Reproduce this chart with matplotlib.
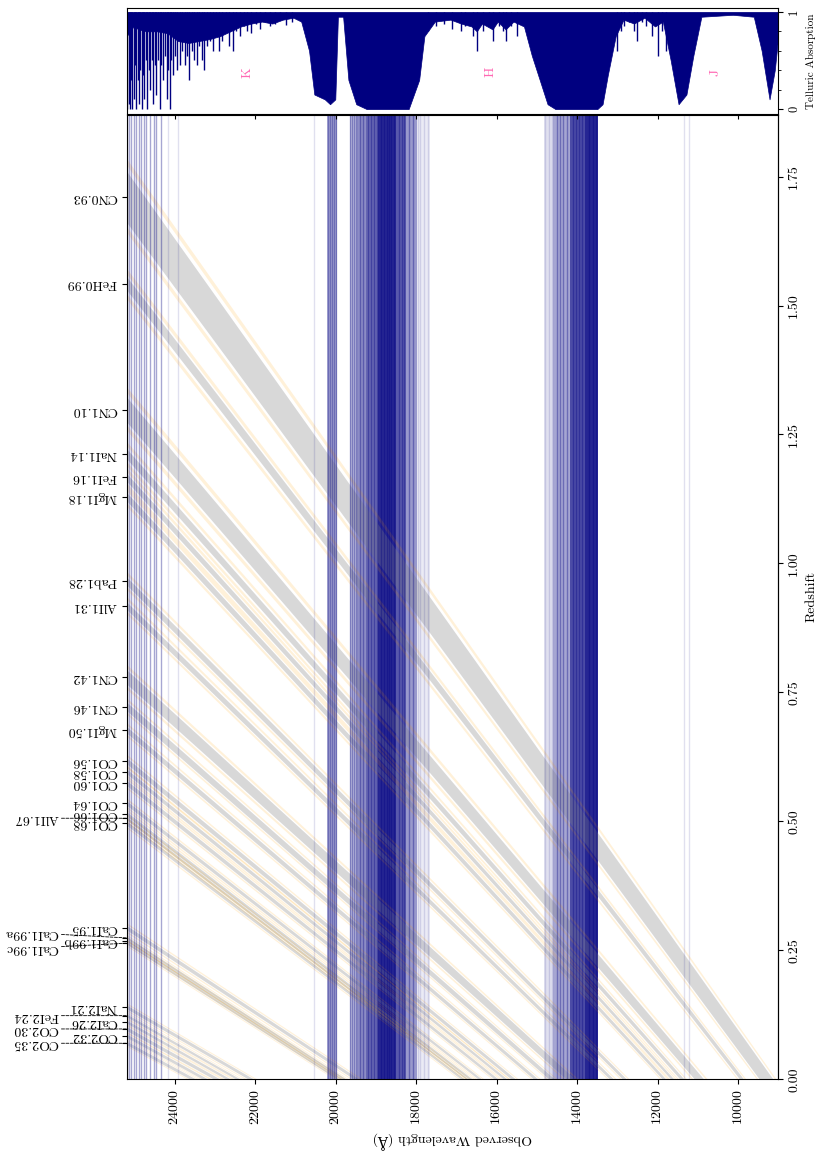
import numpy as np
import matplotlib.pyplot as plt
from matplotlib.ticker import MultipleLocator

plt.rcParams['font.family'] = ['cmr10', 'DejaVu Serif']
plt.rcParams['mathtext.fontset'] = 'cm'
plt.rcParams['axes.unicode_minus'] = False
plt.rcParams['axes.formatter.use_mathtext'] = True
plt.rcParams['font.size'] = 10

wl_min, wl_max = 9000, 25200
z_max = 1.87

# spectral indices: feature band and the two continuum bands (Angstrom, rest frame)
names = ['CN0.93', 'FeH0.99', 'CN1.10', 'NaI1.14', 'FeI1.16', 'MgI1.18', 'Pab1.28',
         'AlI1.31', 'CN1.42', 'CN1.46', 'MgI1.50', 'CO1.56', 'CO1.58', 'CO1.60',
         'CO1.64', 'CO1.66', 'AlI1.67', 'CO1.68', 'CaI1.95', 'CaI1.99a', 'CaI1.99b',
         'CaI1.99c', 'NaI2.21', 'FeI2.24', 'CaI2.26', 'CO2.30', 'CO2.32', 'CO2.35']
label_wl = [9299, 9911, 10968, 11394, 11627, 11837, 12817, 13141, 14161, 14631, 15025,
            15584, 15786, 16011, 16416, 16647, 16733, 16842, 19484, 19780, 19860,
            19940, 22113, 22434, 22680, 22961, 23249, 23556]
feat_lo = [9130, 9860, 10850, 11340, 11590, 11790, 12770, 13090, 14050, 14560, 14970,
           15530, 15740, 15960, 16370, 16600, 16700, 16800, 19420, 19740, 19820,
           19900, 22040, 22380, 22620, 22880, 23180, 23480]
feat_hi = [9470, 9960, 11080, 11440, 11670, 11880, 12870, 13190, 14270, 14700, 15080,
           15640, 15830, 16060, 16460, 16690, 16770, 16890, 19550, 19820, 19900,
           19980, 22180, 22490, 22740, 23040, 23320, 23630]
blue_lo = [9050, 9800, 10760, 11270, 11530, 11730, 12700, 13020, 13970, 14490, 14900,
           15460, 15680, 15900, 16310, 16540, 16640, 16740, 19340, 19680, 19760,
           19840, 21960, 22310, 22550, 22800, 23110, 23410]
blue_hi = [9090, 9840, 10810, 11310, 11570, 11770, 12740, 13060, 14020, 14530, 14940,
           15500, 15720, 15940, 16350, 16580, 16680, 16780, 19390, 19720, 19800,
           19880, 22010, 22350, 22590, 22850, 23150, 23450]
red_lo = [9500, 9990, 11110, 11470, 11690, 11900, 12890, 13210, 14300, 14720, 15100,
          15660, 15850, 16080, 16480, 16710, 16790, 16910, 19580, 19840, 19920,
          20000, 22210, 22510, 22760, 23070, 23340, 23650]
red_hi = [9540, 10030, 11160, 11510, 11730, 11940, 12930, 13250, 14350, 14760, 15140,
          15700, 15890, 16120, 16520, 16750, 16830, 16950, 19630, 19880, 19960,
          20040, 22260, 22550, 22800, 23120, 23380, 23700]
staggered = ['AlI1.67', 'CaI1.99a', 'CaI1.99c', 'FeI2.24', 'CO2.30', 'CO2.35']
stagger_dy = [0, 5, -5, 0, 0, 0]

# telluric absorption wavelengths
tell_strong = [25195, 25145, 25086, 25028, 24961, 24896, 24837, 24780, 24713, 24613,
               24523, 24463, 24339, 20200, 20150, 20090, 20040, 20000, 19640, 19600,
               19560, 19500, 19400, 19330, 19200, 19120, 19050, 18980, 18870, 18800,
               18740, 18680, 18620, 18560, 18430, 18350, 18300, 18180, 18080,
               14500, 14420, 14350, 14260, 14100, 14020, 13950, 13880, 13700,
               13600, 13520]
tell_weak = [24175, 23926, 20548, 17960, 17900, 17800, 17700, 14790, 14700, 14620,
             11354, 11230]
span_lo = [19980, 19470, 19250, 18950, 18500, 18250, 17990, 17650,
           14600, 14180, 13800, 13480]
span_hi = [20210, 19660, 19470, 19250, 18950, 18500, 18250, 17990,
           14820, 14600, 14180, 13800]
span_alpha = [0.35, 0.25, 0.45, 0.6, 0.85, 0.65, 0.4, 0.08,
              0.12, 0.35, 0.7, 0.85]

# telluric transmission: lower envelope of the dense spectrum
trans_wl = [25200, 25031, 24900, 24705, 24444, 24184, 23923, 23662, 23402, 23141,
            22881, 22620, 22359, 22099, 21838, 21578, 21317, 21056, 20861, 20666,
            20535, 20275, 20144, 20014, 19949, 19819, 19688, 19493, 19233, 18972,
            18711, 18451, 18190, 17929, 17799, 17538, 17147, 16887, 16626, 16496,
            16366, 16105, 15975, 15779, 15584, 15323, 15128, 14932, 14737, 14541,
            14020, 13499, 13369, 13239, 13043, 12848, 12587, 12326, 12066, 11870,
            11675, 11480, 11284, 11112, 10913, 10131, 9610, 9414, 9218, 9088, 9000]
trans_lo = [0.75, 0.85, 0.82, 0.80, 0.80, 0.78, 0.70, 0.68, 0.70, 0.72,
            0.75, 0.80, 0.85, 0.88, 0.90, 0.88, 0.92, 0.94, 0.90, 0.60,
            0.15, 0.10, 0.05, 0.10, 0.95, 0.95, 0.30, 0.05, 0.0, 0.0,
            0.0, 0.0, 0.0, 0.30, 0.75, 0.90, 0.92, 0.88, 0.85, 0.80,
            0.88, 0.82, 0.90, 0.82, 0.90, 0.85, 0.55, 0.30, 0.05, 0.0,
            0.0, 0.0, 0.05, 0.35, 0.75, 0.92, 0.88, 0.94, 0.85, 0.90,
            0.50, 0.05, 0.15, 0.55, 0.95, 0.97, 0.95, 0.60, 0.10, 0.40, 0.75]
spike_wl = [25180, 25150, 25120, 25090, 25060, 25020, 24990, 24960, 24930, 24890,
            24860, 24830, 24790, 24760, 24720, 24690, 24650, 24610, 24570, 24540,
            24500, 24460, 24420, 24380, 24340, 24300, 24250, 24210, 24170, 24130,
            24090, 24050, 24000, 23940, 23880, 23820, 23760, 23700, 23640, 23580,
            23520, 23460, 23400, 23330, 23270, 23200, 23130, 23060, 22980, 22900,
            22820, 22740, 22650, 22560, 22470, 22380, 22290, 22200, 22100, 21990,
            21880, 21760, 21640, 21520, 21400, 21250, 21100,
            17700, 17500, 17300, 17100, 16900, 16800, 16600, 16496, 16350, 16200,
            16105, 15950, 15850, 15779, 15650, 15500,
            13000, 12900, 12848, 12700, 12600, 12522, 12400, 12300, 12150, 12000,
            11900, 11800]
spike_lo = [0.0, 0.05, 0.0, 0.3, 0.0, 0.1, 0.45, 0.0, 0.3, 0.05,
            0.4, 0.0, 0.35, 0.1, 0.5, 0.0, 0.4, 0.2, 0.5, 0.05,
            0.45, 0.15, 0.5, 0.0, 0.45, 0.3, 0.55, 0.1, 0.4, 0.0,
            0.5, 0.35, 0.55, 0.4, 0.45, 0.6, 0.45, 0.55, 0.3, 0.6,
            0.5, 0.45, 0.65, 0.5, 0.4, 0.65, 0.7, 0.6, 0.75, 0.6,
            0.7, 0.8, 0.65, 0.6, 0.8, 0.75, 0.85, 0.8, 0.78, 0.88,
            0.82, 0.9, 0.85, 0.88, 0.92, 0.87, 0.9,
            0.8, 0.85, 0.88, 0.82, 0.8, 0.85, 0.75, 0.6, 0.8, 0.85,
            0.7, 0.85, 0.8, 0.7, 0.85, 0.75,
            0.6, 0.8, 0.85, 0.9, 0.8, 0.7, 0.9, 0.85, 0.75, 0.55,
            0.8, 0.6]
band_names = ['K', 'H', 'J']
band_wl = [22186, 16167, 10565]

fig = plt.figure(figsize=(8.21, 11.58), dpi=100)
ax = fig.add_axes([0.1543, 0.0680, 0.7937, 0.8330])
ax_t = fig.add_axes([0.1543, 0.9016, 0.7937, 0.0915], sharex=ax)

# telluric regions as vertical lines
for lo, hi, a in zip(span_lo, span_hi, span_alpha):
    ax.axvspan(lo, hi, color='navy', alpha=a, lw=0)
for w in tell_strong:
    ax.axvline(w, color='navy', alpha=0.35, lw=1)
for w in tell_weak:
    ax.axvline(w, color='navy', alpha=0.12, lw=1)

# redshifted bands
z = np.linspace(0, z_max, 200)
for lo, hi in zip(feat_lo, feat_hi):
    ax.fill_betweenx(z, lo * (1 + z), hi * (1 + z), color='grey', alpha=0.3, lw=0)
for lo, hi in list(zip(blue_lo, blue_hi)) + list(zip(red_lo, red_hi)):
    ax.fill_betweenx(z, lo * (1 + z), hi * (1 + z), color='orange', alpha=0.15, lw=0)

ax.set_xlim(wl_max, wl_min)
ax.set_ylim(0, z_max)
ax.set_xticks(np.arange(10000, 25000, 2000))
ax.tick_params(axis='x', labelrotation=90)
ax.set_xlabel('Observed Wavelength (Å)', rotation=180)

# line names where each band leaves the red edge
z_lab = wl_max / np.array(label_wl) - 1
ax.set_yticks(z_lab)
ax.set_yticklabels(['' if n in staggered else n for n in names], rotation=180,
                   va='center')
for n, dy in zip(staggered, stagger_dy):
    zl = z_lab[names.index(n)]
    ax.annotate(n, xy=(0, zl), xycoords=('axes fraction', 'data'),
                xytext=(-68, dy), textcoords='offset pixels', rotation=180,
                ha='right', va='center',
                arrowprops=dict(arrowstyle='-', ls='--', lw=0.6, color='k',
                                shrinkA=0, shrinkB=0))

ax_r = ax.secondary_yaxis('right')
ax_r.set_yticks(np.arange(0, 1.76, 0.25))
ax_r.set_yticklabels(['%.2f' % v for v in np.arange(0, 1.76, 0.25)], rotation=90,
                     va='center')
ax_r.set_ylabel('Redshift')

# telluric transmission panel
ax_t.fill_between(trans_wl, trans_lo, 1.0, color='navy', lw=0.5)
ax_t.vlines(spike_wl, spike_lo, 1.0, color='navy', lw=1)
for b, w in zip(band_names, band_wl):
    ax_t.text(w, 0.38, b, color='hotpink', rotation=90, ha='center', va='center',
              fontsize=10)
ax_t.set_ylim(-0.05, 1.04)
ax_t.yaxis.tick_right()
ax_t.yaxis.set_label_position('right')
ax_t.set_yticks([0, 1])
ax_t.set_yticklabels(['0', '1'], rotation=90, va='center', fontsize=9)
ax_t.yaxis.set_minor_locator(MultipleLocator(0.2))
ax_t.set_ylabel('Telluric Absorption', fontsize=8)
ax_t.tick_params(axis='x', labelbottom=False, direction='out')

fig.savefig('out.png', dpi=100)
